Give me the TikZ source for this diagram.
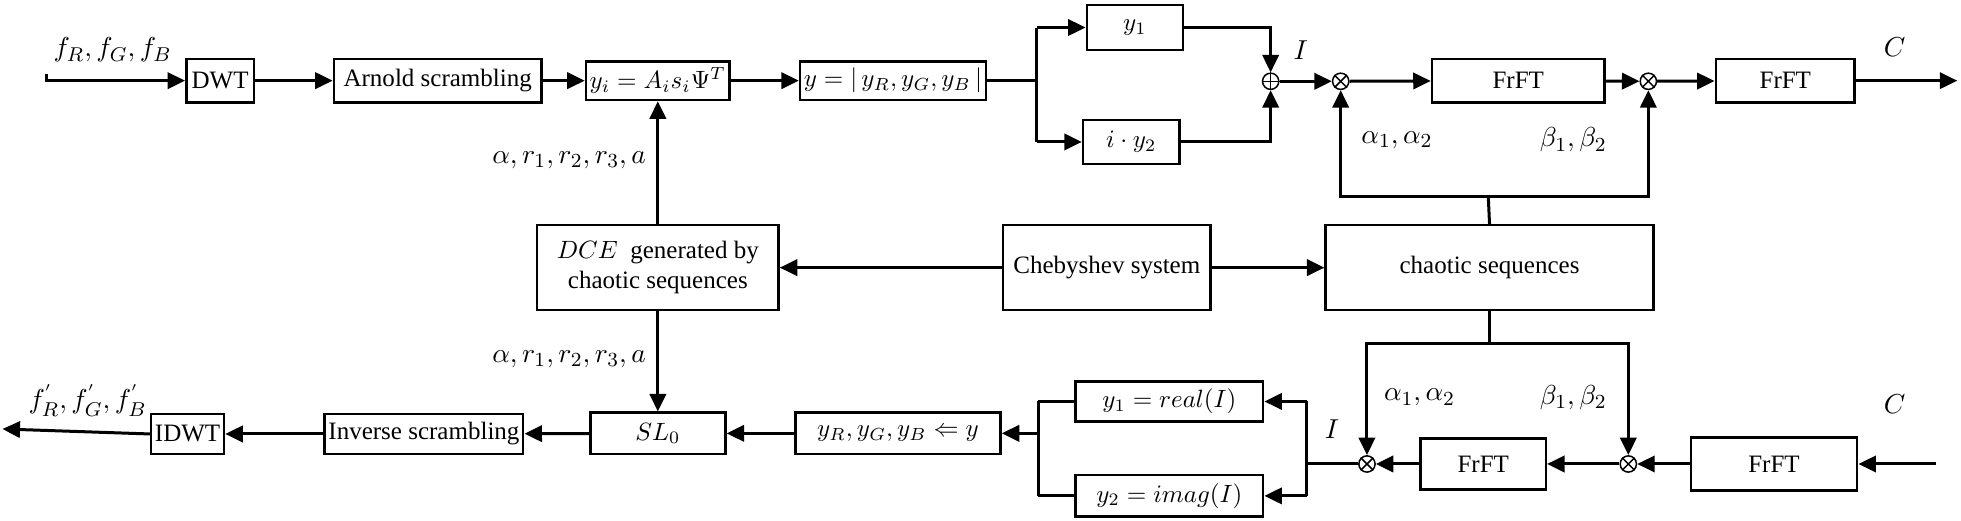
\documentclass[tikz,border=0pt]{standalone}
\usepackage{fontspec}
\setmainfont{Liberation Serif}
\usetikzlibrary{arrows.meta}
\begin{document}
\begin{tikzpicture}[x=0.5pt,y=-0.5pt,
  box/.style={draw,line width=1pt,inner sep=1.5pt,font=\fontsize{10}{12}\selectfont,align=center},
  arr/.style={line width=1.2pt,-{Triangle[length=7pt,width=6.5pt]}},
  ln/.style={line width=1.2pt},
  op/.style={draw,circle,line width=0.6pt,minimum size=6.5pt,inner sep=0pt},
  lbl/.style={font=\fontsize{11}{12}\selectfont}]
\useasboundingbox (0,0) rectangle (1568,416);
\node[box,minimum width=27pt,minimum height=17.5pt] (DWT) at (176,64.5) {DWT};
\node[box,minimum width=83pt,minimum height=17.5pt] (Arn) at (350,64.5) {Arnold scrambling};
\node[box,minimum width=54pt,minimum height=15.5pt] (yi) at (526,64.5) {$y_i=A_is_i\Psi^T$};
\node[box,minimum width=72pt,minimum height=15.5pt] (yeq) at (714,64.5) {$y=|\,y_R,y_G,y_B\,|$};
\node[box,minimum width=38.5pt,minimum height=18pt] (y1) at (907.5,22) {$y_1$};
\node[box,minimum width=38.5pt,minimum height=17.5pt] (iy2) at (904.5,113.5) {$i\cdot y_2$};
\node[box,minimum width=69pt,minimum height=17.5pt] (F1) at (1214,64.5) {FrFT};
\node[box,minimum width=55.5pt,minimum height=17.5pt] (F2) at (1427.5,64.5) {FrFT};
\node[box,minimum width=96.5pt,minimum height=34pt] (DCE) at (526,214) {$DCE$\ \ generated by\\chaotic sequences};
\node[box,minimum width=83pt,minimum height=34pt] (Cheb) at (885,214) {Chebyshev system};
\node[box,minimum width=131pt,minimum height=34pt] (chaos) at (1191,214) {chaotic sequences};
\node[box,minimum width=54pt,minimum height=16.5pt] (SL) at (526,346.5) {$SL_0$};
\node[box,minimum width=82pt,minimum height=16.5pt] (yR) at (718,346.5) {$y_R,y_G,y_B\Leftarrow y$};
\node[box,minimum width=75pt,minimum height=16pt] (re) at (935,321) {$y_1=real(I)$};
\node[box,minimum width=75pt,minimum height=16.5pt] (im) at (935,396.5) {$y_2=imag(I)$};
\node[box,minimum width=50pt,minimum height=20.5pt] (F3) at (1186,371) {FrFT};
\node[box,minimum width=66.5pt,minimum height=21pt] (F4) at (1418.5,371) {FrFT};
\node[box,minimum width=76pt,minimum height=16pt] (inv) at (339,347) {Inverse scrambling};
\node[box,minimum width=29pt,minimum height=16pt] (IDWT) at (150,347) {IDWT};
\node[op] (plus) at (1016,65) {};
\draw[line width=0.6pt] (plus.north)--(plus.south) (plus.west)--(plus.east);
\foreach \n/\x/\y in {o1/1072/65,o2/1318/65,o3/1093/371,o4/1302/371}{
  \node[op] (\n) at (\x,\y) {};
  \draw[line width=0.6pt] (\n.north west)--(\n.south east) (\n.north east)--(\n.south west);}
% labels
\node[lbl] at (90,40) {$f_R,f_G,f_B$};
\node[lbl] at (1040,40) {$I$};
\node[lbl] at (1515,38) {$C$};
\node[lbl] at (1117,112) {$\alpha_1,\alpha_2$};
\node[lbl] at (1258,112) {$\beta_1,\beta_2$};
\node[lbl] at (455,128) {$\alpha,r_1,r_2,r_3,a$};
\node[lbl] at (455,287) {$\alpha,r_1,r_2,r_3,a$};
\node[lbl] at (1065,343) {$I$};
\node[lbl] at (1515,323) {$C$};
\node[lbl] at (1135,318) {$\alpha_1,\alpha_2$};
\node[lbl] at (1258,318) {$\beta_1,\beta_2$};
\node[lbl] at (70,320) {$f_R^{'},f_G^{'},f_B^{'}$};
% top chain
\coordinate (s0) at (37,59);
\draw[arr] (s0)--(37,64.5)--(DWT.west);
\draw[arr] (DWT)--(Arn);
\draw[arr] (Arn)--(yi);
\draw[arr] (yi)--(yeq);
\coordinate (j1) at (829,64.5);
\draw[ln] (yeq.east)--(j1);
\draw[ln] (829,22)--(829,113.5);
\draw[arr] (829,22)--(y1.west);
\draw[arr] (829,113.5)--(iy2.west);
\draw[arr] (y1.east)-|(plus.north);
\draw[arr] (iy2.east)-|(plus.south);
\draw[arr] (plus)--(o1);
\draw[arr] (o1)--(F1);
\draw[arr] (F1)--(o2);
\draw[arr] (o2)--(F2);
\coordinate (out1) at (1565,64.5);
\draw[arr] (F2.east)--(out1);
\coordinate (t1) at (1190,157);
\draw[ln] (chaos.north)--(t1);
\draw[arr] (t1)-|(o1.south);
\draw[arr] (t1)-|(o2.south);
\draw[arr] (DCE.north)--(yi.south);
\draw[arr] (Cheb)--(DCE);
\draw[arr] (Cheb)--(chaos);
\draw[arr] (DCE.south)--(SL.north);
\coordinate (t2) at (1191,275);
\draw[ln] (chaos.south)--(t2);
\draw[arr] (t2)-|(o3.north);
\draw[arr] (t2)-|(o4.north);
% bottom chain
\coordinate (in2) at (1548,371);
\draw[arr] (in2)--(F4.east);
\draw[arr] (F4.west)--(o4);
\draw[arr] (o4)--(F3);
\draw[arr] (F3)--(o3);
\coordinate (j2) at (1045,371);
\draw[ln] (o3.west)--(j2);
\draw[ln] (1045,321)--(1045,396.5);
\draw[arr] (1045,321)--(re.east);
\draw[arr] (1045,396.5)--(im.east);
\draw[ln] (re.west)--(830,321);
\draw[ln] (im.west)--(830,396.5);
\draw[ln] (830,321)--(830,396.5);
\draw[arr] (830,346.5)--(yR.east);
\draw[arr] (yR)--(SL);
\draw[arr] (SL)--(inv);
\draw[arr] (inv)--(IDWT);
\coordinate (out2) at (2,343);
\draw[arr] (IDWT.west)--(out2);
\end{tikzpicture}
\end{document}
